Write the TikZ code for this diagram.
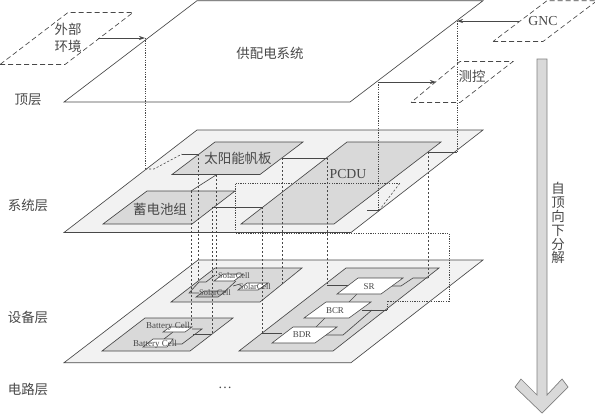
\documentclass[tikz,border=0pt]{standalone}
\usepackage{fontspec}
\setmainfont{Liberation Serif}
\newfontfamily\cjk{Noto Sans CJK SC}
\definecolor{ink}{HTML}{484848}
\definecolor{layerfill}{HTML}{F2F2F2}
\definecolor{groupfill}{HTML}{D9D9D9}
\tikzset{
  outline/.style={draw=ink,line width=0.65bp,line join=miter},
  layerbox/.style={outline,fill=layerfill},
  topbox/.style={outline,fill=white},
  groupbox/.style={outline,fill=groupfill},
  cellbox/.style={draw=ink,line width=0.6bp,fill=white},
  extbox/.style={draw=ink,line width=0.65bp,dash pattern=on 5bp off 3bp},
  link/.style={draw=ink,line width=0.65bp},
  dotlink/.style={draw=ink,line width=0.55bp,dash pattern=on 1.2bp off 1.2bp},
  dashlink/.style={draw=ink,line width=0.55bp,dash pattern=on 2.2bp off 1.8bp},
  flow/.style={link,-{Stealth[length=6bp,width=4bp]}},
  big/.style={text=ink,inner sep=0pt,font=\fontsize{13.5}{15}\selectfont\cjk},
  bigl/.style={text=ink,inner sep=0pt,font=\fontsize{13.8}{15}\selectfont},
  small/.style={text=ink,inner sep=0pt,font=\fontsize{9}{10}\selectfont},
  tiny/.style={text=ink,inner sep=0pt,font=\fontsize{8.4}{9}\selectfont},
}
\usetikzlibrary{arrows.meta}
\begin{document}
\begin{tikzpicture}[x=1bp,y=-1bp]
\useasboundingbox (0,0) rectangle (595,414);
\begin{scope}
\clip (0,0) rectangle (595,414);
% external parallelograms
\draw[extbox] (0,64.5) -- (65,64.5) -- (133,12.5) -- (68,12.5) -- cycle;
\draw[extbox] (493,41.5) -- (543,41.5) -- (597,0.7) -- (547,0.7) -- cycle;
\draw[extbox] (411,102.5) -- (460,102.5) -- (513,61.5) -- (460,61.5) -- cycle;
% top layer
\draw[topbox] (64,102) -- (350,102) -- (483,0.7) -- (197,0.7) -- cycle;
\end{scope}
\node[big] (top) at (270,53) {供配电系统};
\node[big,align=center,font=\fontsize{13.5}{17}\selectfont\cjk] (waibu) at (68,37.5) {外部\\环境};
\node[bigl] (gnc) at (543,21) {GNC};
\node[big] (cekong) at (472,76) {测控};
% system layer
\draw[layerbox] (64,232.5) -- (351,232.5) -- (483,130) -- (197,130) -- cycle;
\draw[groupbox] (172,174.5) -- (260,174.5) -- (303,142) -- (215,142) -- cycle;
\draw[groupbox] (103,224) -- (192,224) -- (235,191) -- (147,191) -- cycle;
\draw[groupbox] (241,224) -- (334,224) -- (441,142) -- (347,142) -- cycle;
\node[big] (solar) at (238,158) {太阳能帆板};
\node[big] (batt) at (160,209) {蓄电池组};
\node[bigl] (pcdu) at (348,174) {PCDU};
% system connectors
\coordinate (s1) at (216,175); \coordinate (s2) at (191,191);
\draw[link] (s1) -- (s2);
\coordinate (s3) at (212,207); \coordinate (s4) at (262,207);
\draw[link] (s3) -- (s4);
\coordinate (s5) at (282,158); \coordinate (s6) at (327,158);
\draw[link] (s5) -- (s6);
\coordinate (s7) at (428,152); \coordinate (s8) at (457,152);
\draw[link] (s7) -- (s8);
\coordinate (s9) at (182,154); \coordinate (s10) at (198,154);
\draw[link] (s9) -- (s10);
\coordinate (s11) at (367,210.5); \coordinate (s12) at (379,210.5);
\draw[link] (s11) -- (s12);
% device layer
\draw[layerbox] (64,362.7) -- (351,362.7) -- (483,260) -- (198,260) -- cycle;
\draw[groupbox] (171,302) -- (260,302) -- (302,268) -- (215,268) -- cycle;
\draw[groupbox] (102,351) -- (190,351) -- (233,318) -- (145,318) -- cycle;
\draw[groupbox] (239,351) -- (333,351) -- (439,268) -- (346,268) -- cycle;
% PCDU device connectors
\coordinate (p1) at (327,285); \coordinate (p2) at (352,285);
\draw[link] (p1) -- (p2);
\coordinate (p3) at (392,286); \coordinate (p4) at (401,286); \coordinate (p5) at (413,278); \coordinate (p6) at (428,278);
\draw[link] (p3) -- (p4) -- (p5) -- (p6);
\coordinate (p7) at (357,294); \coordinate (p8) at (349,302);
\draw[link] (p7) -- (p8);
\coordinate (p9) at (325,318); \coordinate (p10) at (316,327);
\draw[link] (p9) -- (p10);
\coordinate (p11) at (362,310); \coordinate (p12) at (387,310);
\draw[link] (p11) -- (p12);
\coordinate (p13) at (325,335); \coordinate (p14) at (343,335); \coordinate (p15) at (372,310);
\draw[link] (p13) -- (p14) -- (p15);
\coordinate (p16) at (262,333); \coordinate (p17) at (282,333);
\draw[link] (p16) -- (p17);
\draw[cellbox] (337,294) -- (381,294) -- (403,278) -- (358,278) -- cycle;
\draw[cellbox] (304,318) -- (349,318) -- (371,302) -- (326,302) -- cycle;
\draw[cellbox] (272,343) -- (315,343) -- (337,327) -- (293,327) -- cycle;
\node[small] (sr) at (369,286.5) {SR};
\node[small] (bcr) at (335,310.5) {BCR};
\node[small] (bdr) at (302,335) {BDR};
% solar device cells and connectors
\coordinate (c1) at (199,282); \coordinate (c2) at (206,282); \coordinate (c3) at (215,275);
\draw[link] (c1) -- (c2) -- (c3);
\coordinate (c4) at (199,282); \coordinate (c5) at (189,293); \coordinate (c6) at (199,293);
\draw[link] (c4) -- (c5) -- (c6);
\coordinate (c7) at (236,281); \coordinate (c8) at (222,294);
\draw[link] (c7) -- (c8);
\coordinate (c9) at (233,286); \coordinate (c10) at (240,284);
\draw[link] (c9) -- (c10);
\draw[cellbox] (214,281) -- (234,281) -- (243,274) -- (223,274) -- cycle;
\draw[cellbox] (238,290) -- (258,290) -- (268,283) -- (247,283) -- cycle;
\draw[draw=ink,line width=0.6bp,fill=groupfill!70!gray] (196,297) -- (218,297) -- (226,291) -- (204,291) -- cycle;
\node[tiny] (sc1) at (234,276) {SolarCell};
\node[tiny] (sc2) at (255,287) {SolarCell};
\node[tiny] (sc3) at (215,293) {SolarCell};
% battery device cells and connectors
\coordinate (b1) at (173,332); \coordinate (b2) at (164,339);
\draw[link] (b1) -- (b2);
\coordinate (b3) at (192,329); \coordinate (b4) at (202,329); \coordinate (b5) at (182,344); \coordinate (b6) at (173,344);
\draw[link] (b3) -- (b4) -- (b5) -- (b6);
\coordinate (b7) at (193,334); \coordinate (b8) at (212,334);
\draw[link] (b7) -- (b8);
\draw[cellbox] (163,332) -- (185,332) -- (192,327) -- (170,327) -- cycle;
\draw[cellbox] (143,347) -- (167,347) -- (173,339) -- (153,339) -- cycle;
\node[small] (bc1) at (168,326) {Battery Cell};
\node[small] (bc2) at (155,344) {Battery Cell};
% dotted verticals
\coordinate (v1a) at (145,38);  \coordinate (v1b) at (145,169);
\draw[dotlink] (v1a) -- (v1b);
\draw[dashlink] (v1b) -- (154,169) -- (s9);
\coordinate (v2a) at (457,21);  \draw[dotlink] (v2a) -- (s8);
\coordinate (v3a) at (378,82);  \draw[dotlink] (v3a) -- (s12 -| v3a);
\draw[dashlink] (s12) -- (400,183);
\coordinate (h1) at (400,183); \coordinate (h2) at (235,183); \coordinate (h3) at (235,233);
\coordinate (h4) at (449,233); \coordinate (h5) at (449,301); \coordinate (h6) at (387,301); \coordinate (h7) at (387,310);
\draw[dotlink] (h1) -- (h2) -- (h3) -- (h4) -- (h5) -- (h6) -- (h7);
\coordinate (v4b) at (191,325); \draw[dashlink] (s2) -- (v4b);
\coordinate (v5b) at (198,282); \draw[dashlink] (s10) -- (v5b);
\draw[dashlink] (s3) -- (b8);
\coordinate (v6b) at (216,276); \draw[dashlink] (s1) -- (v6b);
\draw[dashlink] (s4) -- (p16);
\coordinate (v7b) at (282,284); \draw[dashlink] (s5) -- (v7b);
\draw[dashlink] (s6) -- (p1);
\draw[dashlink] (s7) -- (p6);
% arrows between layers
\coordinate (a1) at (98,38); \draw[flow] (a1) -- (v1a);
\coordinate (a2) at (519,21); \draw[flow] (a2) -- (v2a);
\coordinate (a3) at (436,82); \draw[flow] (v3a) -- (a3);
% layer labels
\node[big] (l1) at (28,100) {顶层};
\node[big] (l2) at (28,205) {系统层};
\node[big] (l3) at (28,317) {设备层};
\node[big] (l4) at (28,389) {电路层};
\node[small,font=\fontsize{14}{15}\selectfont] (dots) at (225,388) {…};
% big arrow
\draw[draw=gray,line width=0.7bp,fill=groupfill] (537,59) -- (547,59) -- (547,395) -- (562,379) -- (568,387) -- (542,413) -- (515,387) -- (521,379) -- (537,395) -- cycle;
\node[big,align=center,font=\fontsize{13.5}{14}\selectfont\cjk] (down) at (558,223) {自\\顶\\向\\下\\分\\解};
\end{tikzpicture}
\end{document}
